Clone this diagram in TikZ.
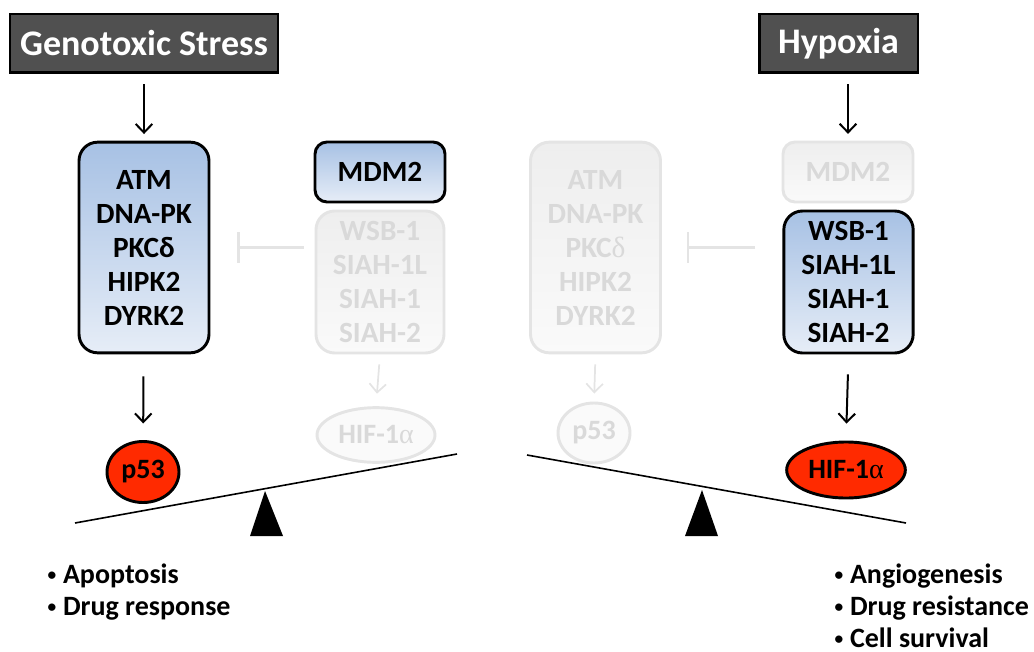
\documentclass[tikz,border=0pt]{standalone}
\usepackage{fontspec}
\setmainfont{Carlito}
\newfontfamily\greekfont{Liberation Serif}
\usepackage{tikz}
\usetikzlibrary{arrows.meta,shapes.geometric}
\definecolor{slate}{HTML}{505050}
\definecolor{skytop}{HTML}{A7C1E4}
\definecolor{skybot}{HTML}{E6EDF7}
\definecolor{ghost}{HTML}{E4E4E4}
\definecolor{ghosttxt}{HTML}{D9D9D9}
\definecolor{ghosttop}{HTML}{EEEEEE}
\definecolor{ghostbot}{HTML}{FAFAFA}
\definecolor{tumor}{HTML}{FF2A00}
\newcommand{\hifa}{HIF-1{\greekfont\mdseries α}}
\newcommand{\fatedot}{\raisebox{0.2ex}{\fontsize{13}{13}\selectfont\textbullet}\hspace{5pt}}

\begin{document}
\begin{tikzpicture}[x=0.75pt,y=-0.75pt,>={Straight Barb[length=6.5pt,width=12.5pt]},
  stress/.style={draw=black,line width=2pt,fill=slate,text=white,inner sep=0pt,
    font=\fontsize{27}{30}\selectfont\bfseries},
  onbox/.style={draw=black,line width=2.2pt,top color=skytop,bottom color=skybot,
    rounded corners=14pt,align=center,inner sep=0pt,font=\fontsize{22}{25.5}\selectfont\bfseries},
  offbox/.style={draw=ghost,line width=2.2pt,top color=ghosttop,bottom color=ghostbot,text=ghosttxt,
    rounded corners=14pt,align=center,inner sep=0pt,font=\fontsize{22}{25.5}\selectfont\bfseries},
  onegg/.style={ellipse,draw=black,line width=2.2pt,fill=tumor,inner sep=0pt,
    font=\fontsize{21}{24}\selectfont\bfseries},
  offegg/.style={ellipse,draw=ghost,line width=2.2pt,fill=ghostbot,text=ghosttxt,inner sep=0pt,
    font=\fontsize{21}{24}\selectfont\bfseries},
  onarr/.style={->,line width=1.5pt},
  offarr/.style={->,draw=ghost,line width=1.3pt},
  offbar/.style={-{Bar[width=22.5pt]},draw=ghost,line width=1.6pt},
  fate/.style={anchor=base west,font=\fontsize{21}{24}\selectfont\bfseries}]
  \useasboundingbox (0,0) rectangle (1034,652);

  % stimuli
  \node[stress,minimum width=201pt,minimum height=44pt] (gen) at (144,43.5) {Genotoxic Stress};
  \node[stress,minimum width=119pt,minimum height=44pt] (hyp) at (838.5,43.5) {Hypoxia};

  % left half: p53 side active
  \node[onbox,minimum width=97.5pt,minimum height=158pt] (kin) at (144,247.5)
    {ATM\\DNA-PK\\PKCδ\\HIPK2\\DYRK2};
  \node[onbox,minimum width=97.5pt,minimum height=45pt,rounded corners=9pt] (mdm) at (380,172) {MDM2};
  \node[offbox,minimum width=96pt,minimum height=106.5pt] (ubqF) at (380,282)
    {WSB-1\\SIAH-1L\\SIAH-1\\SIAH-2};
  \node[onegg,minimum width=54pt,minimum height=45.75pt] (p53) at (143,472) {p53};
  \node[offegg,minimum width=88.5pt,minimum height=41pt] (hifF) at (376,435) {\hifa};

  % right half: HIF side active
  \node[offbox,minimum width=97.5pt,minimum height=158pt] (kinF) at (595.5,247.5)
    {ATM\\DNA-PK\\PKC{\greekfont\mdseries δ}\\HIPK2\\DYRK2};
  \node[offbox,minimum width=97.5pt,minimum height=45pt,rounded corners=9pt] (mdmF) at (848,172) {MDM2};
  \node[onbox,minimum width=97pt,minimum height=106.5pt] (ubq) at (848.5,282)
    {WSB-1\\SIAH-1L\\SIAH-1\\SIAH-2};
  \node[offegg,minimum width=54pt,minimum height=45pt] (p53F) at (594,433) {p53};
  \node[onegg,minimum width=89pt,minimum height=42pt] (hif) at (846,470) {\hifa};

  % arrows
  \draw[onarr,shorten <=7.5pt,shorten >=5pt] (gen) -- (kin);
  \draw[onarr,shorten <=7.5pt,shorten >=5pt] (hyp.south -| mdmF.north) -- (mdmF.north);
  \draw[onarr,shorten <=16.5pt,shorten >=12.4pt] (kin) -- (p53);
  \draw[onarr,shorten <=15pt,shorten >=12.7pt] (ubq.south) -- (hif.north);
  \draw[offarr,shorten <=7.5pt,shorten >=9.4pt] (ubqF.south) -- (hifF.north);
  \draw[offarr,shorten <=7.5pt,shorten >=6pt] (kinF.south) -- (p53F.north);
  \draw[offbar,shorten <=8.25pt,shorten >=20.25pt] (ubqF.west |- kin.east) -- (kin.east);
  \draw[offbar,shorten <=20.25pt,shorten >=19pt] (ubq.west |- kinF.east) -- (kinF.east);

  % balances
  \draw[line width=1.2pt] (75,523) -- (457,454);
  \fill (265,491) -- (250,536) -- (283,536) -- cycle;
  \draw[line width=1.2pt] (527,455) -- (906,523);
  \fill (702,490) -- (685,536) -- (718,536) -- cycle;

  % outcomes
  \foreach \y/\n/\t in {583/1/Apoptosis, 615/2/Drug response}
    \node[fate] (fp\n) at (43,\y) {\fatedot\t};
  \foreach \y/\n/\t in {583/1/Angiogenesis, 615/2/Drug resistance, 647/3/Cell survival}
    \node[fate] (fh\n) at (830,\y) {\fatedot\t};
\end{tikzpicture}
\end{document}
